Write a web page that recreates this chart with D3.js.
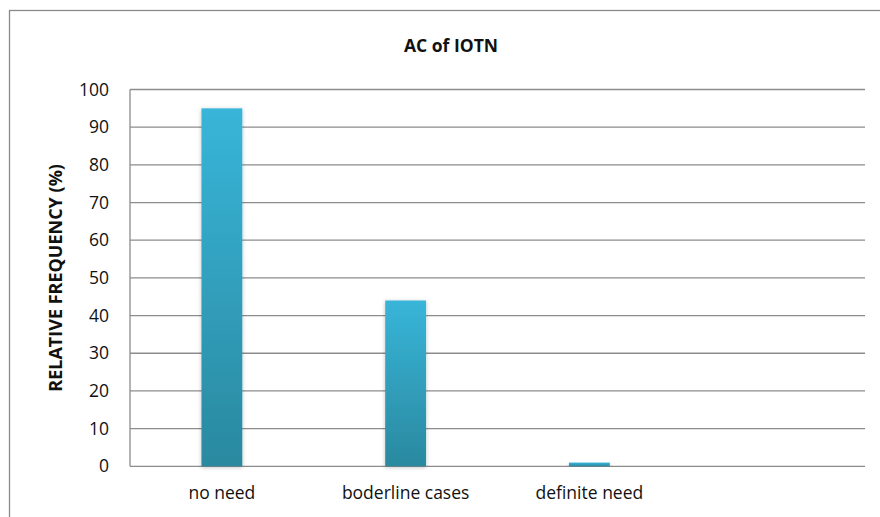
<!DOCTYPE html>
<html>
<head>
<meta charset="utf-8">
<script src="https://cdn.jsdelivr.net/npm/d3@7"></script>
<style>
  html, body { margin: 0; padding: 0; background: #fff; }
  svg { display: block; font-family: "Open Sans", "DejaVu Sans", sans-serif; }
</style>
</head>
<body>
<svg id="chart" width="880" height="517"></svg>
<script>
// Categories along the x axis (the last slot is left empty)
const categories = ["no need", "boderline cases", "definite need", ""];
// Relative frequency (%) per category
const values = [95, 44, 1];
// Y axis ticks
const yTicks = [0, 10, 20, 30, 40, 50, 60, 70, 80, 90, 100];

const W = 880, H = 517;
const margin = { left: 130, right: 15, top: 89.5, bottom: 50.7 };
const svg = d3.select("#chart");

// Outer chart frame (runs off the right and bottom edges)
svg.append("rect")
  .attr("x", 9.5).attr("y", 10.5)
  .attr("width", 900).attr("height", 540)
  .attr("fill", "#fff")
  .attr("stroke", "#8a8a8a").attr("stroke-width", 1.3);

const x = d3.scaleBand()
  .domain(categories)
  .range([margin.left, W - margin.right])
  .padding(0);

const y = d3.scaleLinear()
  .domain([0, 100])
  .range([H - margin.bottom, margin.top]);

// Bar gradient and soft shadow
const defs = svg.append("defs");
const grad = defs.append("linearGradient")
  .attr("id", "barFill")
  .attr("x1", 0).attr("y1", 0).attr("x2", 0).attr("y2", 1);
grad.append("stop").attr("offset", "0%").attr("stop-color", "#38b5d9");
grad.append("stop").attr("offset", "100%").attr("stop-color", "#2a899f");

const shadow = defs.append("filter")
  .attr("id", "barShadow")
  .attr("x", "-30%").attr("y", "-10%").attr("width", "160%").attr("height", "120%");
shadow.append("feGaussianBlur").attr("in", "SourceAlpha").attr("stdDeviation", 2.2).attr("result", "blur");
shadow.append("feOffset").attr("in", "blur").attr("dx", 0).attr("dy", 1).attr("result", "off");
shadow.append("feComponentTransfer").attr("in", "off").attr("result", "soft")
  .append("feFuncA").attr("type", "linear").attr("slope", 0.25);
const merge = shadow.append("feMerge");
merge.append("feMergeNode").attr("in", "soft");
merge.append("feMergeNode").attr("in", "SourceGraphic");

// Horizontal gridlines
svg.append("g")
  .selectAll("line")
  .data(yTicks)
  .join("line")
  .attr("x1", margin.left).attr("x2", W - margin.right)
  .attr("y1", d => y(d)).attr("y2", d => y(d))
  .attr("stroke", "#8c8c8c").attr("stroke-width", 1.3);

// Y axis line
svg.append("line")
  .attr("x1", margin.left).attr("x2", margin.left)
  .attr("y1", y(100)).attr("y2", y(0))
  .attr("stroke", "#8c8c8c").attr("stroke-width", 1.3);

// Y tick labels
const yAxis = d3.axisLeft(y).tickValues(yTicks).tickSize(0).tickPadding(21);
const gy = svg.append("g")
  .attr("transform", `translate(${margin.left},0)`)
  .call(yAxis);
gy.select(".domain").remove();
gy.selectAll("text")
  .attr("font-size", 17.5)
  .attr("font-family", "'Open Sans', sans-serif")
  .attr("fill", "#111");

// Bars, width = category width / 4.5 (gap 350%)
const barW = x.bandwidth() / 4.5;
svg.append("g")
  .selectAll("rect")
  .data(values)
  .join("rect")
  .attr("x", (d, i) => x(categories[i]) + x.bandwidth() / 2 - barW / 2)
  .attr("y", d => y(d))
  .attr("width", barW)
  .attr("height", d => y(0) - y(d))
  .attr("fill", "url(#barFill)")
  .attr("filter", "url(#barShadow)");

// X category labels
const xAxis = d3.axisBottom(x).tickSize(0).tickPadding(20);
const gx = svg.append("g")
  .attr("transform", `translate(0,${y(0)})`)
  .call(xAxis);
gx.select(".domain").remove();
gx.selectAll("text")
  .attr("font-size", 17.5)
  .attr("font-family", "'Open Sans', sans-serif")
  .attr("fill", "#111");

// Title
svg.append("text")
  .attr("x", 451).attr("y", 52)
  .attr("text-anchor", "middle")
  .attr("font-size", 17.5)
  .attr("font-weight", "bold")
  .attr("fill", "#111")
  .text("AC of IOTN");

// Y axis title
svg.append("text")
  .attr("transform", `translate(62,${(y(0) + y(100)) / 2}) rotate(-90)`)
  .attr("text-anchor", "middle")
  .attr("font-size", 18)
  .attr("font-weight", "bold")
  .attr("fill", "#111")
  .text("RELATIVE FREQUENCY (%)");
</script>
</body>
</html>
